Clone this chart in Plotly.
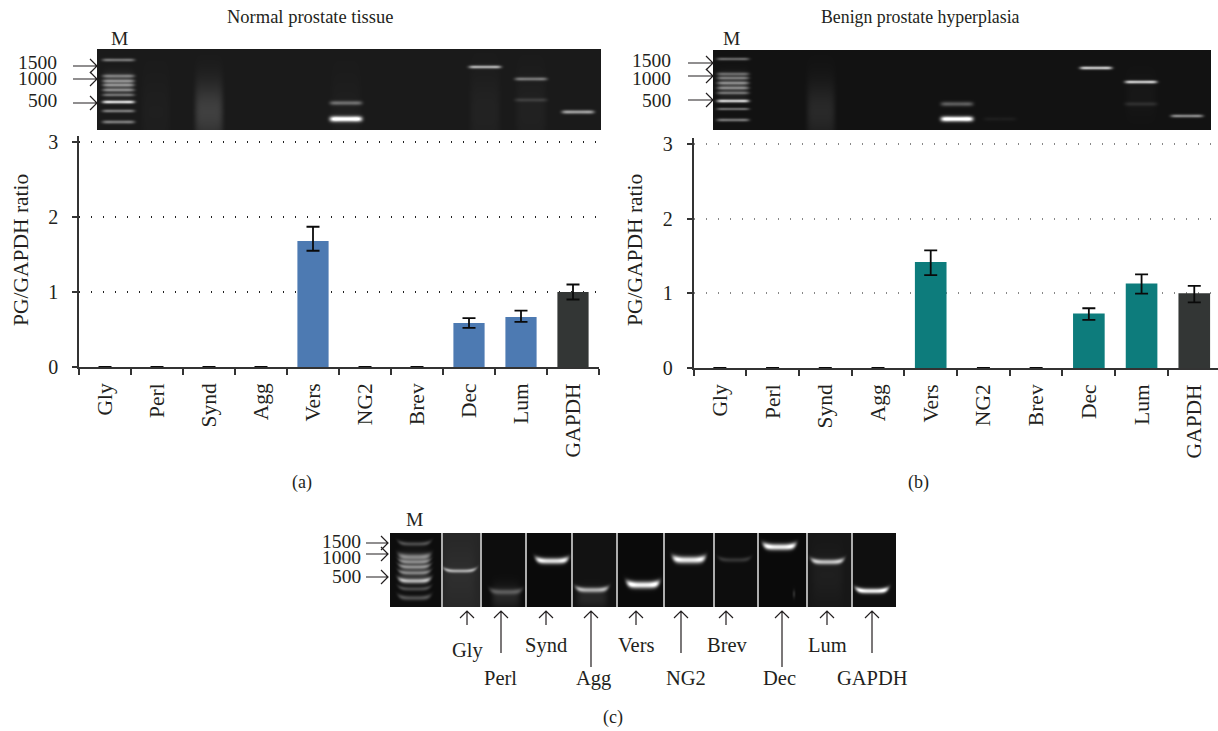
import numpy as np
import plotly.graph_objects as go

W, H = 1218, 731
FONT = "Liberation Serif"
INK = "#231f20"

categories = ["Gly", "Perl", "Synd", "Agg", "Vers", "NG2", "Brev", "Dec", "Lum", "GAPDH"]

normal_values = [0, 0, 0, 0, 1.68, 0, 0, 0.587, 0.667, 1.0]
normal_err_up = [0, 0, 0, 0, 0.19, 0, 0, 0.065, 0.085, 0.10]
normal_err_down = [0, 0, 0, 0, 0.13, 0, 0, 0.065, 0.065, 0.10]

benign_values = [0, 0, 0, 0, 1.42, 0, 0, 0.73, 1.13, 1.0]
benign_err_up = [0, 0, 0, 0, 0.155, 0, 0, 0.07, 0.125, 0.10]
benign_err_down = [0, 0, 0, 0, 0.175, 0, 0, 0.085, 0.133, 0.12]

y_ticks = [0, 1, 2, 3]
marker_sizes = ["1500", "1000", "500"]

# Gel bands: (lane centre, row, brightness, thickness)
gel_a_bands = [
    (118.5, 60, .34, 1.2), (118.5, 76, .3, 1.3), (118.5, 81, .3, 1.2), (118.5, 85, .28, 1.1),
    (118.5, 90, .28, 1.1), (118.5, 95, .26, 1.1), (118.5, 102, .72, 1.2), (118.5, 111, .36, 1.2),
    (118.5, 122, .36, 1.3),
    (346, 103, .3, 1.6), (346, 119, .95, 2.0), (485, 67, .55, 1.2),
    (531, 79, .34, 1.3), (531, 100, .11, 1.4), (578, 112, .5, 1.4),
]
gel_a_smears = [(118.5, .2, 15, 85, 10), (209, .15, 14, 112, 30), (485, .035, 15, 112, 40),
                (531, .03, 15, 112, 40), (156, .02, 14, 112, 40), (346, .02, 15, 112, 40)]

gel_b_bands = [
    (733, 59, .32, 1.1), (733, 74, .28, 1.3), (733, 78, .28, 1.1), (733, 83, .28, 1.1),
    (733, 88, .28, 1.1), (733, 93, .26, 1.1), (733, 101, .7, 1.2), (733, 109, .34, 1.0),
    (733, 120, .36, 1.2),
    (957, 104, .28, 1.7), (957, 119, .98, 1.9), (1000, 119, .04, 1.5), (1096, 68, .68, 1.2),
    (1141, 82, .68, 1.2), (1141, 104, .09, 1.5), (1187, 116, .44, 1.2),
]
gel_b_smears = [(733, .2, 15, 85, 10), (821, .09, 14, 112, 30), (1141, .02, 15, 95, 20)]

gel_c_lanes = [390, 442, 481, 526, 572, 617, 664, 714, 758, 807, 852, 896]
gel_c_levels = [.05, .15, .05, .04, .07, .04, .05, .05, .04, .09, .06]
gel_c_bands = [
    (414.5, 544, .22, 1.6), (414.5, 557, .36, 2.2), (414.5, 562, .28, 1.4), (414.5, 567, .28, 1.4),
    (414.5, 573, .26, 1.4), (414.5, 581, .55, 1.8), (414.5, 589, .2, 1.5), (414.5, 598, .24, 1.8),
    (460, 571, .45, 1.4), (506, 592, .22, 2.0), (552, 561, .82, 2.2), (592, 590, .55, 1.9),
    (643, 585, .9, 2.5), (689, 560, .85, 2.5), (734.5, 560, .14, 1.7), (779.5, 547, .88, 2.3),
    (827.5, 562, .62, 1.9), (872, 591, .85, 1.9), (794, 593, .0, 3),
]
gel_c_smears = [(414.5, .22, 15, 568, 13), (460, .03, 15, 575, 30), (506, .1, 14, 597, 12),
                (592, .08, 15, 598, 10), (794, .12, 1.5, 594, 4), (827.5, .03, 15, 575, 25)]
gel_c_labels = [("Gly", 468, 650, 467, 625), ("Perl", 500, 678, 501, 653), ("Synd", 546, 645, 546, 625),
                ("Agg", 593, 678, 591, 667), ("Vers", 636, 645, 636, 625), ("NG2", 686, 678, 681, 653),
                ("Brev", 727, 645, 726, 625), ("Dec", 779, 678, 782, 667), ("Lum", 827, 645, 827, 625),
                ("GAPDH", 872, 678, 872, 653)]


def gel(x0, x1, y0, y1, level, bands, smears=(), half=15.0, edge=.3, curl=0.0):
    xs = np.arange(x0, x1) + .5
    ys = np.arange(y0, y1) + .5
    X, Y = np.meshgrid(xs, ys)
    Z = np.full(X.shape, float(level))
    for c, r, b, s in bands:
        u = (X - c) / half
        Z += b * np.exp(-u ** 6) * (1 + edge * u ** 4) * np.exp(-((Y - r + curl * u ** 4) / s) ** 2 / 2)
    for c, b, hw, yc, ysig in smears:
        Z += b * np.exp(-((X - c) / hw) ** 6) * np.exp(-((Y - yc) / ysig) ** 2)
    return xs, ys, np.clip(Z, 0, 1)


fig = go.Figure()


def px_x(x):
    return x / W


def px_y(y):
    return 1 - y / H


def add_bar_panel(idx, values, up, down, colour, dx, dy, grid_colour, xr):
    xa, ya = f"x{idx}", f"y{idx}"
    colours = [colour] * 9 + ["#333635"]
    fig.add_bar(x=categories, y=values, marker=dict(color=colours, line_width=0), width=0.6,
                error_y=dict(type="data", array=up, arrayminus=down, symmetric=False,
                             color="#0a0a0a", thickness=1.8, width=6.5),
                xaxis=xa, yaxis=ya, showlegend=False)
    common = dict(showline=True, linecolor="#333333", linewidth=1.5, ticks="outside", tickcolor="#333333",
                  tickwidth=1.5, layer="below traces")
    fig.update_layout({
        f"xaxis{idx}": dict(domain=[px_x(dx[0]), px_x(dx[1])], anchor=ya, type="category",
                            categoryorder="array", categoryarray=categories,
                            range=xr, tickson="boundaries", ticklen=6, tickangle=-90,
                            tickfont=dict(family=FONT, size=21.5, color=INK),
                            ticklabelstandoff=6, showgrid=False, **common),
        f"yaxis{idx}": dict(domain=[px_y(dy[0]), px_y(dy[1])], anchor=xa, range=[0, 3.08],
                            tickfont=dict(family=FONT, size=20, color=INK),
                            tickvals=y_ticks, ticklen=5, ticklabelstandoff=10, zeroline=False,
                            showgrid=True, gridcolor=grid_colour, gridwidth=1.5, griddash="1px,11px",
                            **common),
    })


add_bar_panel(1, normal_values, normal_err_up, normal_err_down, "#4d7ab2", (79, 599), (367, 136), "#222222", [-0.5, 9.5])
add_bar_panel(2, benign_values, benign_err_up, benign_err_down, "#0d7c7c", (693.5, 1218), (368, 138), "#888888", [-0.5, 9.45])


def add_gel(idx, xs, ys, z):
    xa, ya = f"x{idx}", f"y{idx}"
    fig.add_heatmap(x=xs, y=ys, z=z, zmin=0, zmax=1, colorscale=[[0, "#000000"], [1, "#ffffff"]],
                    showscale=False, hoverinfo="skip", xaxis=xa, yaxis=ya)
    fig.update_layout({
        f"xaxis{idx}": dict(domain=[px_x(xs[0] - .5), px_x(xs[-1] + .5)], anchor=ya, visible=False,
                            range=[xs[0] - .5, xs[-1] + .5]),
        f"yaxis{idx}": dict(domain=[px_y(ys[-1] + .5), px_y(ys[0] - .5)], anchor=xa, visible=False,
                            range=[ys[-1] + .5, ys[0] - .5]),
    })


add_gel(3, *gel(97, 601, 49, 130, .10, gel_a_bands, gel_a_smears, edge=.7))
add_gel(4, *gel(713, 1211, 50, 130, .07, gel_b_bands, gel_b_smears, edge=.7))

cx, cy, cz = gel(390, 896, 533, 607, 0, gel_c_bands, gel_c_smears, edge=1.0, curl=1.8)
for i, lev in enumerate(gel_c_levels):
    cz[:, (cx >= gel_c_lanes[i]) & (cx < gel_c_lanes[i + 1])] += lev
for sep in gel_c_lanes[1:-1]:
    cz[:, (cx >= sep - 1) & (cx < sep + 1)] = .68
add_gel(5, cx, cy, np.clip(cz, 0, 1))

# Text
annotations = []


def text(s, x, y, size=19.5, anchor="center", angle=0):
    annotations.append(dict(text=s, x=px_x(x), y=px_y(y), xref="paper", yref="paper", showarrow=False,
                            xanchor=anchor, yanchor="middle", textangle=angle,
                            font=dict(family=FONT, size=size, color=INK)))


text("Normal prostate tissue", 310, 17, size=18.5)
text("Benign prostate hyperplasia", 920, 17, size=17.8)
text("M", 119, 39)
text("M", 731, 39)
text("M", 415, 519)
text("(a)", 302, 482, size=18)
text("(b)", 918, 482, size=18)
text("(c)", 613, 717, size=18)
text("PG/GAPDH ratio", 21, 250, size=21.5, angle=-90)
text("PG/GAPDH ratio", 635, 250, size=21.5, angle=-90)
for s, y in zip(marker_sizes, (63, 79, 101)):
    text(s, 59, y, anchor="right")
for s, y in zip(marker_sizes, (60, 79, 101)):
    text(s, 673, y, anchor="right")
for s, y in zip(marker_sizes, (541, 557, 576)):
    text(s, 363, y, anchor="right")

shapes = []


def arrow(x0, y0, x1, y1):
    d = np.array([x1 - x0, y1 - y0], float)
    d /= np.hypot(*d)
    n = np.array([-d[1], d[0]])
    tip = np.array([x1, y1], float)
    a = tip - 7 * d + 7 * n
    b = tip - 7 * d - 7 * n
    P = lambda p: f"{px_x(p[0]):.5f} {px_y(p[1]):.5f}"
    path = f"M {P((x0, y0))} L {P(tip)} M {P(a)} L {P(tip)} L {P(b)}"
    shapes.append(dict(type="path", path=path, xref="paper", yref="paper",
                       line=dict(color="#231f20", width=1.2)))


for y in (66, 79, 103):
    arrow(73, y, 97, y)
for y in (63, 76, 100):
    arrow(688, y, 713, y)
for y in (543, 554, 577):
    arrow(366, y, 388, y)
for name, lx, ly, ax, tail in gel_c_labels:
    text(name, lx, ly, size=20.5)
    arrow(ax, tail, ax, 611)

fig.update_layout(width=W, height=H, autosize=False, margin=dict(l=0, r=0, t=0, b=0, autoexpand=False),
                  paper_bgcolor="white", plot_bgcolor="white", showlegend=False, bargap=0.4,
                  annotations=annotations, shapes=shapes)

fig.write_html("out.html", config={"displayModeBar": False},
               post_script="document.body.style.margin='0';")
